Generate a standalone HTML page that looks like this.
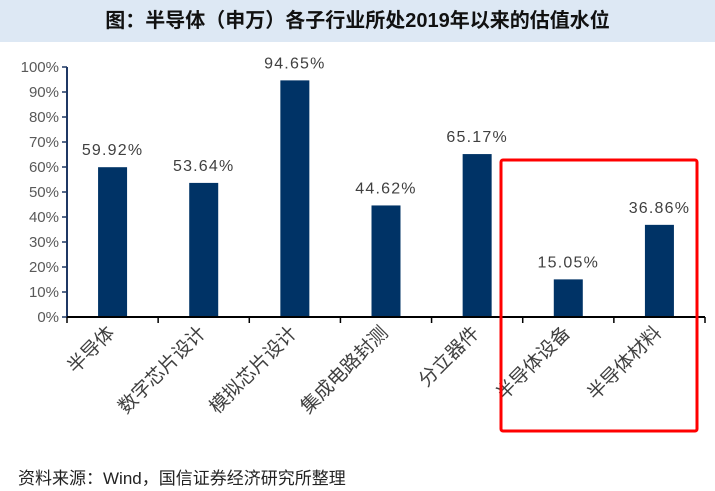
<!DOCTYPE html>
<html><head><meta charset="utf-8"><style>
body{margin:0;background:#fff;width:715px;height:491px;overflow:hidden;font-family:"Liberation Sans","Noto Sans CJK SC",sans-serif}
#title{position:absolute;left:0;top:0;width:715px;height:42px;background:#dde8f4;text-align:center;line-height:42px;font-size:20px;font-weight:bold;color:#111}
#src{position:absolute;left:18px;top:464px;font-size:17px;color:#222}
svg{position:absolute;left:0;top:0}
</style></head><body>
<div id="title">图：半导体（申万）各子行业所处2019年以来的估值水位</div>
<svg id="chart" width="715" height="491"></svg>
<div id="src">资料来源：Wind，国信证券经济研究所整理</div>
<script>
const categories=["半导体","数字芯片设计","模拟芯片设计","集成电路封测","分立器件","半导体设备","半导体材料"];
const values=[59.92,53.64,94.65,44.62,65.17,15.05,36.86];
const valueLabels=["59.92%","53.64%","94.65%","44.62%","65.17%","15.05%","36.86%"];
const yTicks=[0,10,20,30,40,50,60,70,80,90,100];
const NS="http://www.w3.org/2000/svg",svg=document.getElementById('chart');
const x0=67,x1=705,y0=317,y100=67,bw=29;
const step=(x1-x0)/categories.length;
const yS=v=>y0-(v/100)*(y0-y100);
const xC=i=>x0+step*(i+0.5);
function mk(t,a,txt){const e=document.createElementNS(NS,t);for(const k in a)e.setAttribute(k,a[k]);if(txt!=null)e.textContent=txt;svg.appendChild(e);return e;}
let e=mk('line',{x1:x0,y1:y100,x2:x0,y2:y0,stroke:'#1f3864','stroke-width':2});

yTicks.forEach(t=>{
 let l=mk('line',{x1:x0-5,y1:yS(t),x2:x0,y2:yS(t),stroke:'#1f3864','stroke-width':1.5});
 
 let tx=mk('text',{x:x0-8,y:yS(t)+5,'text-anchor':'end','font-size':15,fill:'#595959'},t+'%');
 
});
values.forEach((v,i)=>{
 let r=mk('rect',{x:xC(i)-bw/2,y:yS(v),width:bw,height:y0-yS(v),fill:'#003366'});
 
 let t=mk('text',{x:xC(i),y:yS(v)-12,'text-anchor':'middle','font-size':16,'letter-spacing':'1.2',fill:'#404040'},valueLabels[i]);
 
 let c=mk('text',{transform:`translate(${xC(i)+3},${y0+17}) rotate(-45)`,'text-anchor':'end','font-size':19,fill:'#404040'},categories[i]);
 
});
for(let i=0;i<=categories.length;i++){
 let l=mk('line',{x1:x0+step*i,y1:y0,x2:x0+step*i,y2:y0+6,stroke:'#000','stroke-width':1.5});
 
}
e=mk('line',{x1:x0,y1:y0,x2:x1,y2:y0,stroke:'#000','stroke-width':2});

e=mk('rect',{x:501,y:160,width:196,height:271,fill:'none',stroke:'#f00','stroke-width':3,rx:2});

</script>
</body></html>
